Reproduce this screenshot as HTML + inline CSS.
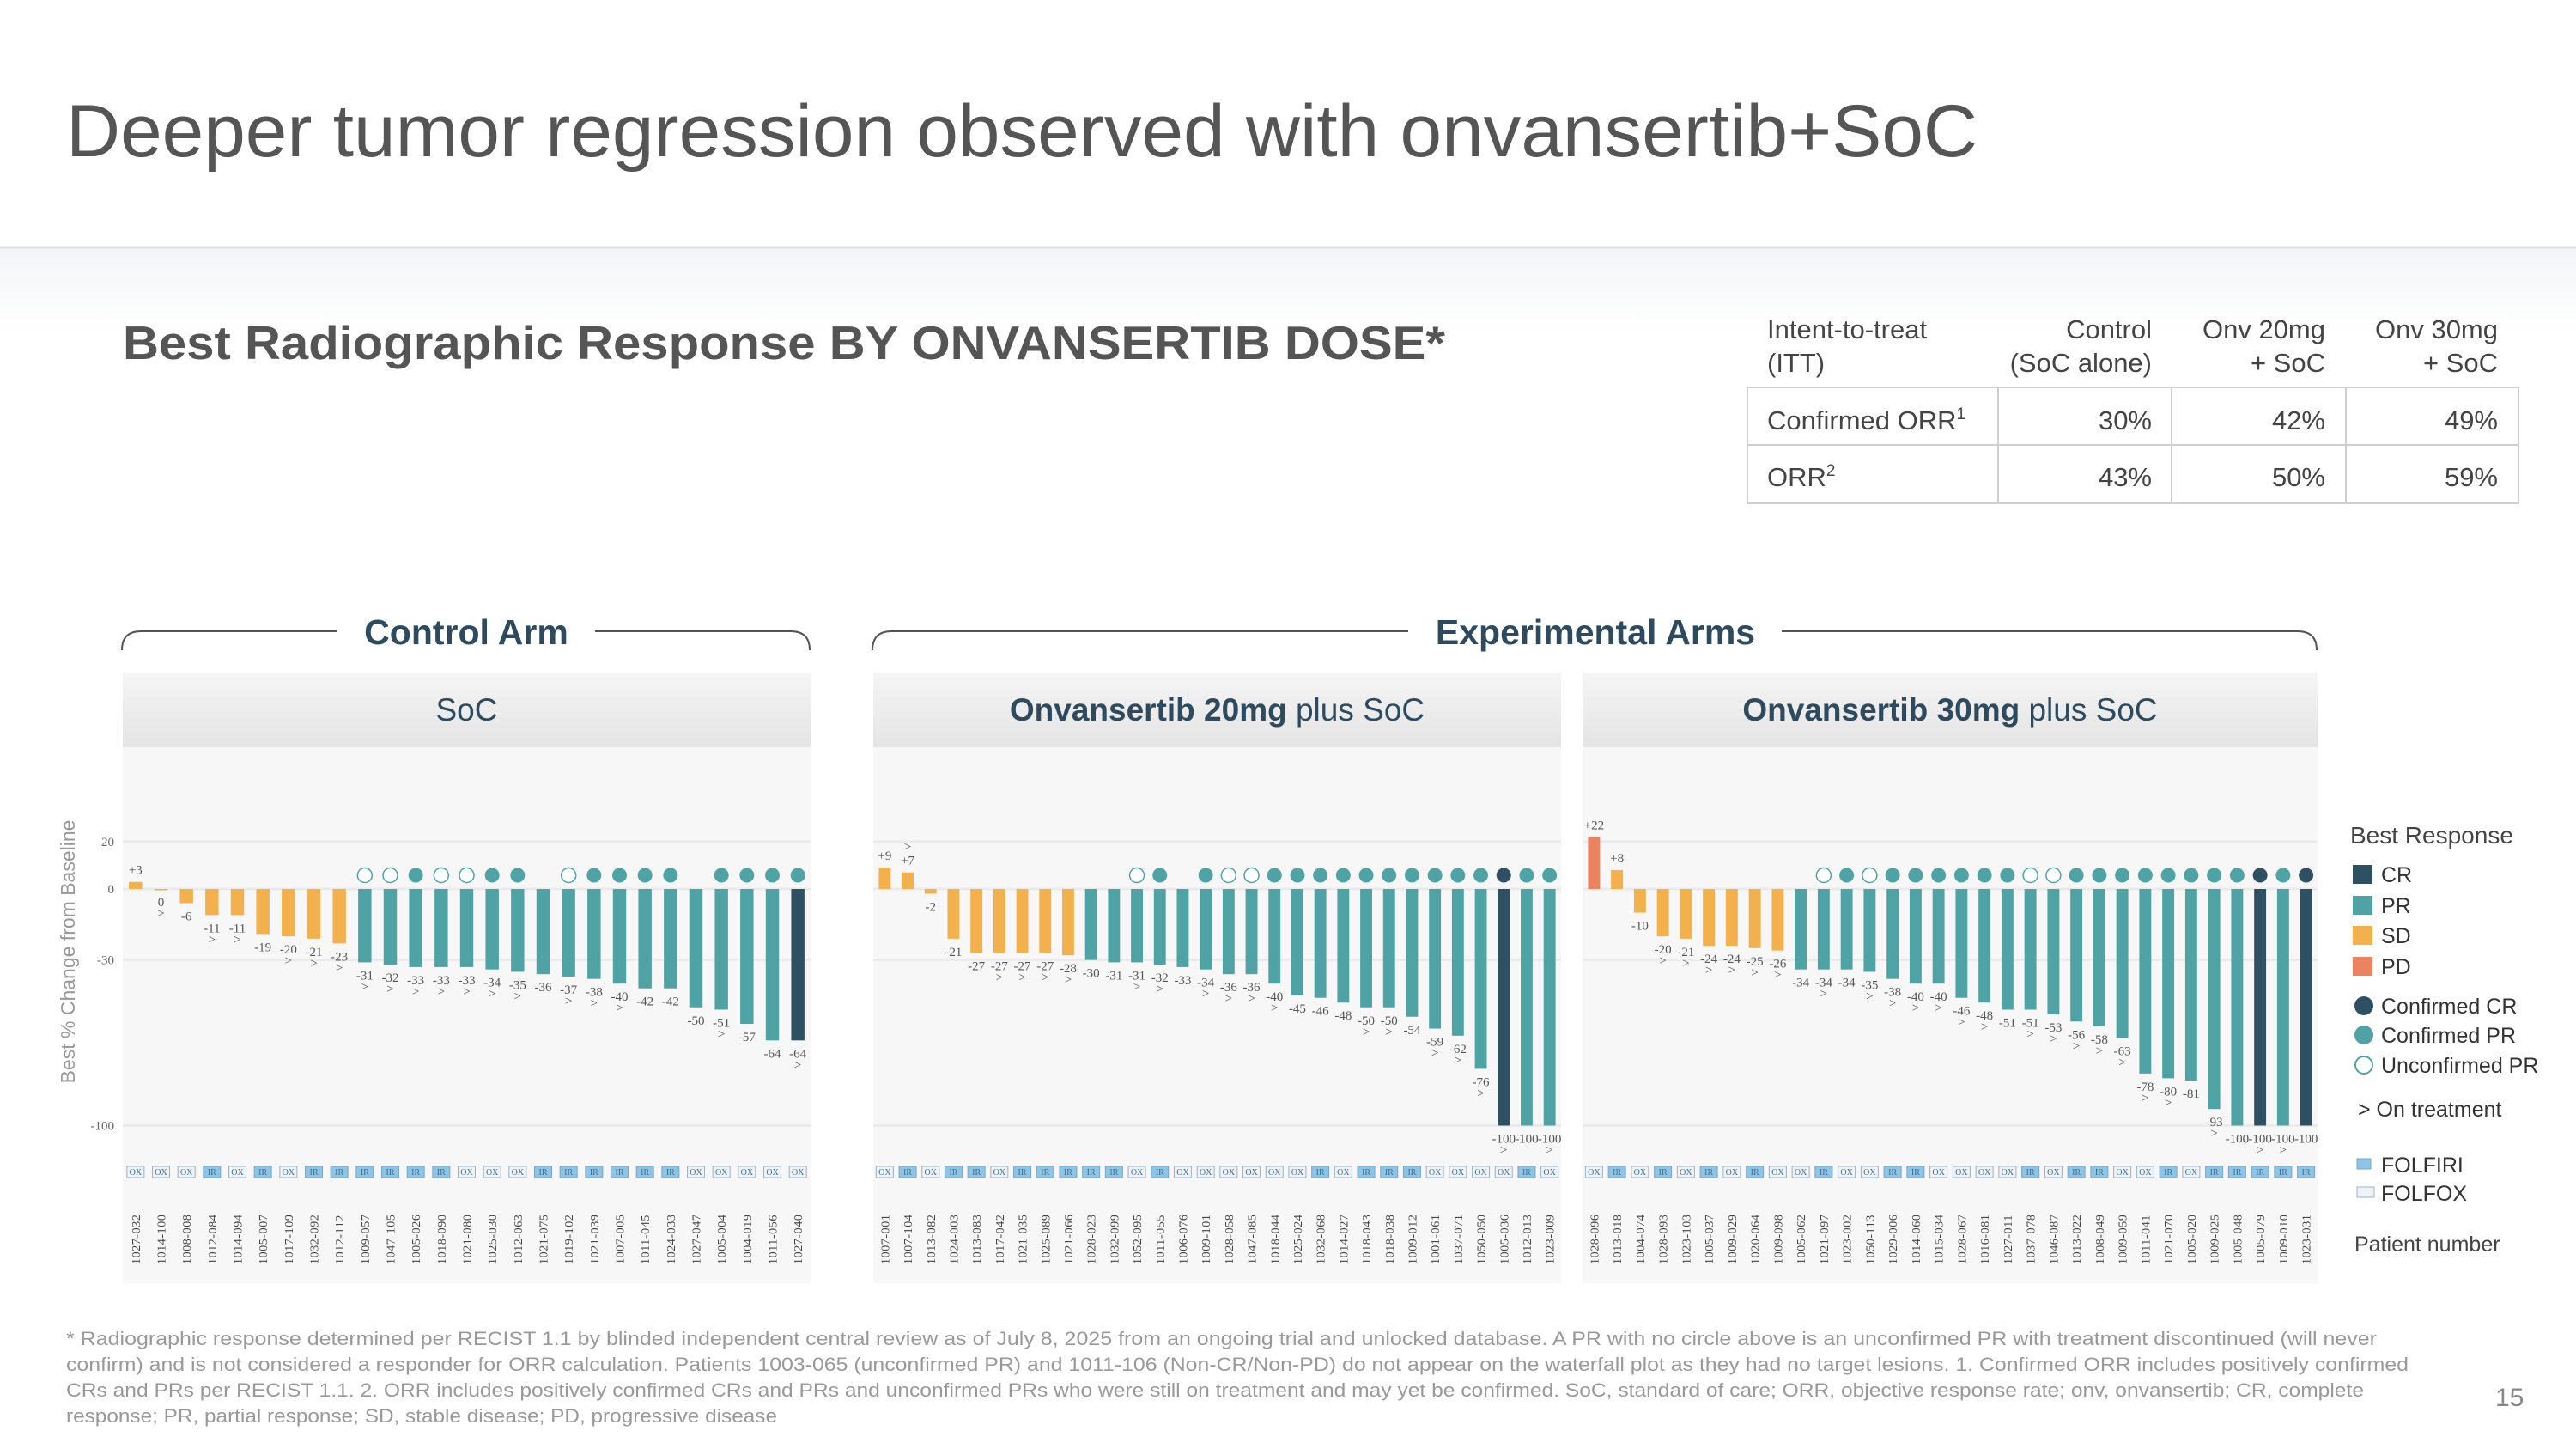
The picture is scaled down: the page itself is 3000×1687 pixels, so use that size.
<!DOCTYPE html>
<html><head><meta charset="utf-8"><title>Waterfall</title>
<style>
html,body{margin:0;padding:0;background:#fff;}
svg{display:block;}
text{font-family:"Liberation Sans",sans-serif;}
.serif{font-family:"Liberation Serif",serif;}
</style></head>
<body>
<svg id="page" width="3000" height="1687" viewBox="0 0 3000 1687" xmlns="http://www.w3.org/2000/svg">
<defs>
<linearGradient id="band" x1="0" y1="0" x2="0" y2="1"><stop offset="0" stop-color="#f2f4f6"/><stop offset="1" stop-color="#ffffff"/></linearGradient>
<linearGradient id="hdr" x1="0" y1="0" x2="0" y2="1"><stop offset="0" stop-color="#f5f5f5"/><stop offset="1" stop-color="#e4e4e4"/></linearGradient>
</defs>
<rect x="0" y="288" width="3000" height="100" fill="url(#band)"/>
<line x1="0" y1="288" x2="3000" y2="288" stroke="#dfe2e5" stroke-width="3"/>
<text x="77" y="182" font-size="86" fill="#555" textLength="2226" lengthAdjust="spacingAndGlyphs">Deeper tumor regression observed with onvansertib+SoC</text>
<text x="143" y="418" font-size="55" font-weight="bold" fill="#555" textLength="1540" lengthAdjust="spacingAndGlyphs">Best Radiographic Response BY ONVANSERTIB DOSE*</text>

<g font-size="31" fill="#444">
<text x="2058" y="394">Intent-to-treat</text>
<text x="2058" y="433">(ITT)</text>
<text x="2506" y="394" text-anchor="end">Control</text>
<text x="2506" y="433" text-anchor="end">(SoC alone)</text>
<text x="2708" y="394" text-anchor="end">Onv 20mg</text>
<text x="2708" y="433" text-anchor="end">+ SoC</text>
<text x="2909" y="394" text-anchor="end">Onv 30mg</text>
<text x="2909" y="433" text-anchor="end">+ SoC</text>
<g stroke="#cfcfcf" stroke-width="2" fill="none">
<rect x="2035" y="451" width="898" height="135"/>
<line x1="2035" y1="518" x2="2933" y2="518"/>
<line x1="2327" y1="451" x2="2327" y2="586"/>
<line x1="2529" y1="451" x2="2529" y2="586"/>
<line x1="2732" y1="451" x2="2732" y2="586"/>
</g>
<text x="2058" y="500">Confirmed ORR<tspan font-size="19" dy="-12">1</tspan></text>
<text x="2506" y="500" text-anchor="end">30%</text>
<text x="2708" y="500" text-anchor="end">42%</text>
<text x="2909" y="500" text-anchor="end">49%</text>
<text x="2058" y="566">ORR<tspan font-size="19" dy="-12">2</tspan></text>
<text x="2506" y="566" text-anchor="end">43%</text>
<text x="2708" y="566" text-anchor="end">50%</text>
<text x="2909" y="566" text-anchor="end">59%</text>
</g>

<g fill="none" stroke="#555" stroke-width="2">
<path d="M142,757 Q142,735 164,735 L392,735 M693,735 L921,735 Q943,735 943,757"/>
</g>
<text x="543" y="750" font-size="41" font-weight="bold" fill="#2e4a5e" text-anchor="middle">Control Arm</text>
<g fill="none" stroke="#555" stroke-width="2">
<path d="M1016,757 Q1016,735 1038,735 L1640,735 M2075,735 L2676,735 Q2698,735 2698,757"/>
</g>
<text x="1858" y="750" font-size="41" font-weight="bold" fill="#2e4a5e" text-anchor="middle">Experimental Arms</text>

<g id="panels"></g>

<text transform="translate(87,1108) rotate(-90)" font-size="23" fill="#999" text-anchor="middle">Best % Change from Baseline</text>

<g font-size="25" fill="#333">
<text x="2737" y="982" font-size="28" fill="#444">Best Response</text>
<rect x="2740" y="1007" width="23" height="22" fill="#2f4f63"/><text x="2773" y="1027">CR</text>
<rect x="2740" y="1043" width="23" height="22" fill="#4fa3a5"/><text x="2773" y="1063">PR</text>
<rect x="2740" y="1078" width="23" height="22" fill="#f2b14c"/><text x="2773" y="1098">SD</text>
<rect x="2740" y="1114" width="23" height="22" fill="#ec8360"/><text x="2773" y="1134">PD</text>
<circle cx="2753" cy="1171" r="11" fill="#2f4f63"/><text x="2773" y="1180">Confirmed CR</text>
<circle cx="2753" cy="1205" r="11" fill="#4fa3a5"/><text x="2773" y="1214">Confirmed PR</text>
<circle cx="2753" cy="1240" r="10" fill="#fff" stroke="#4fa3a5" stroke-width="2"/><text x="2773" y="1249">Unconfirmed PR</text>
<text x="2746" y="1300">&gt;  On treatment</text>
<rect x="2745" y="1349" width="16" height="12" fill="#8ec4e6" stroke="#7aa7c4"/><text x="2773" y="1365">FOLFIRI</text>
<rect x="2745" y="1382" width="20" height="12" fill="#eef3f7" stroke="#9db0c0"/><text x="2773" y="1398">FOLFOX</text>
<text x="2742" y="1457" fill="#444">Patient number</text>
</g>

<g font-size="22" fill="#999">
<text x="77" y="1566" textLength="2691" lengthAdjust="spacingAndGlyphs">* Radiographic response determined per RECIST 1.1 by blinded independent central review as of July 8, 2025 from an ongoing trial and unlocked database. A PR with no circle above is an unconfirmed PR with treatment discontinued (will never</text>
<text x="77" y="1596" textLength="2728" lengthAdjust="spacingAndGlyphs">confirm) and is not considered a responder for ORR calculation. Patients 1003-065 (unconfirmed PR) and 1011-106 (Non-CR/Non-PD) do not appear on the waterfall plot as they had no target lesions. 1. Confirmed ORR includes positively confirmed</text>
<text x="77" y="1626" textLength="2676" lengthAdjust="spacingAndGlyphs">CRs and PRs per RECIST 1.1. 2. ORR includes positively confirmed CRs and PRs and unconfirmed PRs who were still on treatment and may yet be confirmed. SoC, standard of care; ORR, objective response rate; onv, onvansertib; CR, complete</text>
<text x="77" y="1656" textLength="828" lengthAdjust="spacingAndGlyphs">response; PR, partial response; SD, stable disease; PD, progressive disease</text>
</g>
<text x="2906" y="1637" font-size="30" fill="#888">15</text>
</svg>
<script>
// ---- data ----
const yTicks = [20, 0, -30, -100];
const controlPatients = ["1027-032","1014-100","1008-008","1012-084","1014-094","1005-007","1017-109","1032-092","1012-112","1009-057","1047-105","1005-026","1018-090","1021-080","1025-030","1012-063","1021-075","1019-102","1021-039","1007-005","1011-045","1024-033","1027-047","1005-004","1004-019","1011-056","1027-040"];
const controlValues = [3,0,-6,-11,-11,-19,-20,-21,-23,-31,-32,-33,-33,-33,-34,-35,-36,-37,-38,-40,-42,-42,-50,-51,-57,-64,-64];
const controlResponse = ["SD","SD","SD","SD","SD","SD","SD","SD","SD","PR","PR","PR","PR","PR","PR","PR","PR","PR","PR","PR","PR","PR","PR","PR","PR","PR","CR"];
const controlConfirm = ["","","","","","","","","","U","U","C","U","U","C","C","","U","C","C","C","C","","C","C","C","C"];
const controlOnTx = [0,1,0,1,1,0,1,1,1,1,1,1,1,1,1,1,0,1,1,1,0,0,0,1,0,0,1];
const controlRegimen = ["OX","OX","OX","IR","OX","IR","OX","IR","IR","IR","IR","IR","IR","OX","OX","OX","IR","IR","IR","IR","IR","IR","OX","OX","OX","OX","OX"];

const dose20Patients = ["1007-001","1007-104","1013-082","1024-003","1013-083","1017-042","1021-035","1025-089","1021-066","1028-023","1032-099","1052-095","1011-055","1006-076","1009-101","1028-058","1047-085","1018-044","1025-024","1032-068","1014-027","1018-043","1018-038","1009-012","1001-061","1037-071","1050-050","1005-036","1012-013","1023-009"];
const dose20Values = [9,7,-2,-21,-27,-27,-27,-27,-28,-30,-31,-31,-32,-33,-34,-36,-36,-40,-45,-46,-48,-50,-50,-54,-59,-62,-76,-100,-100,-100];
const dose20Response = ["SD","SD","SD","SD","SD","SD","SD","SD","SD","PR","PR","PR","PR","PR","PR","PR","PR","PR","PR","PR","PR","PR","PR","PR","PR","PR","PR","CR","PR","PR"];
const dose20Confirm = ["","","","","","","","","","","","U","C","","C","U","U","C","C","C","C","C","C","C","C","C","C","CR","C","C"];
const dose20OnTx = [0,1,0,0,0,1,1,1,1,0,0,1,1,0,1,1,1,1,0,0,0,1,1,0,1,1,1,1,0,1];
const dose20Regimen = ["OX","IR","OX","IR","IR","OX","IR","IR","IR","IR","IR","OX","IR","OX","OX","OX","OX","OX","OX","IR","OX","IR","IR","IR","OX","OX","OX","OX","IR","OX"];

const dose30Patients = ["1028-096","1013-018","1004-074","1028-093","1023-103","1005-037","1009-029","1020-064","1009-098","1005-062","1021-097","1023-002","1050-113","1029-006","1014-060","1015-034","1028-067","1016-081","1027-011","1037-078","1046-087","1013-022","1008-049","1009-059","1011-041","1021-070","1005-020","1009-025","1005-048","1005-079","1009-010","1023-031"];
const dose30Values = [22,8,-10,-20,-21,-24,-24,-25,-26,-34,-34,-34,-35,-38,-40,-40,-46,-48,-51,-51,-53,-56,-58,-63,-78,-80,-81,-93,-100,-100,-100,-100];
const dose30Response = ["PD","SD","SD","SD","SD","SD","SD","SD","SD","PR","PR","PR","PR","PR","PR","PR","PR","PR","PR","PR","PR","PR","PR","PR","PR","PR","PR","PR","PR","CR","PR","CR"];
const dose30Confirm = ["","","","","","","","","","","U","C","U","C","C","C","C","C","C","U","U","C","C","C","C","C","C","C","C","CR","C","CR"];
const dose30OnTx = [0,0,0,1,1,1,1,1,1,0,1,0,1,1,1,1,1,1,0,1,1,1,1,1,1,1,0,1,0,1,1,0];
const dose30Regimen = ["OX","IR","OX","IR","OX","IR","OX","IR","OX","OX","IR","OX","OX","IR","IR","OX","OX","OX","OX","IR","OX","IR","IR","OX","OX","IR","OX","IR","IR","IR","IR","IR"];

// ---- layout ----
const NS = "http://www.w3.org/2000/svg";
const COLORS = {CR:"#2f4f63", PR:"#4fa3a5", SD:"#f2b14c", PD:"#ec8360"};
const Y0 = 1035, PX_PER_UNIT = 2.755;
function yScale(v){ return Y0 - v * PX_PER_UNIT; }
function mk(tag, attrs, parent){
  const el = document.createElementNS(NS, tag);
  for (const k in attrs) el.setAttribute(k, attrs[k]);
  parent.appendChild(el);
  return el;
}
const root = document.getElementById("panels");

function drawPanel(cfg){
  const g = mk("g", {}, root);
  
  
  const bg = mk("rect", {x:cfg.left, y:870, width:cfg.right-cfg.left, height:624, fill:"#f7f7f7"}, g);
  
  
  const hd = mk("rect", {x:cfg.left, y:783, width:cfg.right-cfg.left, height:87, fill:"url(#hdr)"}, g);
  
  
  const ht = mk("text", {x:(cfg.left+cfg.right)/2, y:839, "text-anchor":"middle", "font-size":37, fill:"#2e4a5e"}, g);
  
  
  if (cfg.bold){ const b = mk("tspan", {"font-weight":"bold"}, ht); b.textContent = cfg.bold; }
  const r = mk("tspan", {}, ht); r.textContent = cfg.title;
  yTicks.forEach(t => {
    const gl = mk("line", {x1:cfg.left, x2:cfg.right, y1:yScale(t), y2:yScale(t), stroke:"#ebebeb", "stroke-width":3}, g);
    
    
    if (cfg.ticks){
      const tl = mk("text", {x:cfg.left-10, y:yScale(t)+5, "text-anchor":"end", "font-size":15, fill:"#666", class:"serif"}, g);
      
      
      tl.textContent = t;
    }
  });
  const n = cfg.values.length;
  const step = (cfg.right - cfg.left) / n;
  const bw = step * 0.52;
  for (let i = 0; i < n; i++){
    const cx = cfg.left + step * (i + 0.5);
    const v = cfg.values[i];
    const yv = yScale(v);
    const bar = mk("rect", {x:cx-bw/2, y:Math.min(yv,Y0), width:bw, height:Math.max(Math.abs(yv-Y0),1.5), fill:COLORS[cfg.response[i]]}, g);
    
    
    const label = v > 0 ? "+" + v : String(v);
    const on = cfg.onTx[i];
    if (v > 0){
      const lt = mk("text", {x:cx, y:yv-9, "text-anchor":"middle", "font-size":15, fill:"#555", class:"serif"}, g);
      
      
      lt.textContent = label;
      if (on){
        const ot = mk("text", {x:cx, y:yv-25, "text-anchor":"middle", "font-size":15, fill:"#555", class:"serif"}, g);
        
        
        ot.textContent = ">";
      }
    } else {
      const base = Math.max(yv, Y0);
      const lt = mk("text", {x:cx, y:base+20, "text-anchor":"middle", "font-size":15, fill:"#555", class:"serif"}, g);
      
      
      lt.textContent = label;
      if (on){
        const ot = mk("text", {x:cx, y:base+33, "text-anchor":"middle", "font-size":15, fill:"#555", class:"serif"}, g);
        
        
        ot.textContent = ">";
      }
    }
    const c = cfg.confirm[i];
    if (c){
      const attrs = {cx:cx, cy:1019, r:8.5};
      if (c === "U"){ attrs.fill = "#fff"; attrs.stroke = "#4fa3a5"; attrs["stroke-width"] = 1.5; }
      else attrs.fill = (c === "CR") ? "#2f4f63" : "#4fa3a5";
      const ci = mk("circle", attrs, g);
      
      
    }
    const ir = cfg.regimen[i] === "IR";
    const rb = mk("rect", {x:cx-10, y:1358, width:20, height:13, fill: ir ? "#8ec4e6" : "#eef3f7", stroke: ir ? "#7aa7c4" : "#9db0c0", "stroke-width":1}, g);
    
    
    const rt = mk("text", {x:cx, y:1368, "text-anchor":"middle", "font-size":10, fill:"#3d6f8f", class:"serif"}, g);
    
    
    rt.textContent = cfg.regimen[i];
    const pt = mk("text", {transform:"translate(" + (cx+5) + ",1472) rotate(-90)", "font-size":14, fill:"#444", "letter-spacing":"0.6", class:"serif"}, g);
    
    
    pt.textContent = cfg.patients[i];
  }
}

drawPanel({name:"soc-panel", left:143, right:944, bold:"", title:"SoC", ticks:true,
  values:controlValues, response:controlResponse, confirm:controlConfirm, onTx:controlOnTx, regimen:controlRegimen, patients:controlPatients});
drawPanel({name:"onv20-panel", left:1017, right:1818, bold:"Onvansertib 20mg", title:" plus SoC", ticks:false,
  values:dose20Values, response:dose20Response, confirm:dose20Confirm, onTx:dose20OnTx, regimen:dose20Regimen, patients:dose20Patients});
drawPanel({name:"onv30-panel", left:1843, right:2699, bold:"Onvansertib 30mg", title:" plus SoC", ticks:false,
  values:dose30Values, response:dose30Response, confirm:dose30Confirm, onTx:dose30OnTx, regimen:dose30Regimen, patients:dose30Patients});
</script>
</body></html>
